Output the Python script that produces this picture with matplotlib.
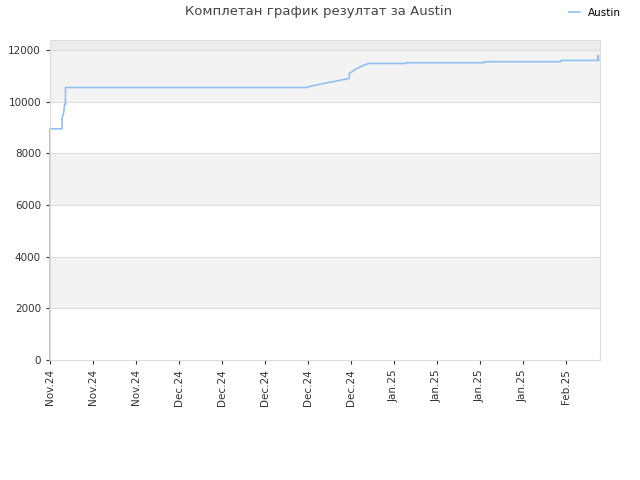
import matplotlib
matplotlib.use("Agg")
import matplotlib.pyplot as plt

x = [0, 0, 2.8, 2.8, 3.2, 3.4, 3.6, 3.6, 59.8, 60.5, 62, 64, 66, 68, 69.6, 69.6, 71, 72.5, 74, 82.8, 82.8, 101, 101, 118.8, 118.8, 127.4, 127.5, 127.6]
y = [0, 8950, 8950, 9350, 9600, 9900, 9900, 10550, 10550, 10600, 10650, 10720, 10780, 10850, 10900, 11100, 11250, 11380, 11480, 11480, 11510, 11510, 11550, 11550, 11600, 11600, 11800, 11600]
tick_pos = [0, 10, 20, 30, 40, 50, 60, 70, 80, 90, 100, 110, 120]
tick_labels = ["Nov.24", "Nov.24", "Nov.24", "Dec.24", "Dec.24", "Dec.24", "Dec.24", "Dec.24",
               "Jan.25", "Jan.25", "Jan.25", "Jan.25", "Feb.25"]

fig = plt.figure(figsize=(6.4, 4.8), dpi=100)
ax = fig.add_axes([50/640, 120/480, 550/640, 320/480])
ymax = 12390
ax.set_ylim(0, ymax)
ax.set_xlim(0, 127.9)
for lo, hi, c in [(2000, 4000, "#f3f3f3"), (6000, 8000, "#f3f3f3"), (10000, 12000, "#f3f3f3"), (12000, ymax, "#ececec")]:
    ax.axhspan(lo, hi, color=c, zorder=0, lw=0)
for v in range(2000, 12001, 2000):
    ax.axhline(v, color="#dddddd", lw=0.8, zorder=1)
ax.plot(x, y, color="#8fc1f0", lw=1.2, label="Austin", zorder=2, clip_on=False)
ax.set_yticks(range(0, 12001, 2000))
ax.set_xticks(tick_pos)
ax.set_xticklabels(tick_labels, rotation=90)
ax.tick_params(labelsize=7.5, colors="#333333", length=3)
for s in ax.spines.values():
    s.set_color("#dddddd")
fig.text(0.497, 0.975, "Комплетан график резултат за Austin", fontsize=9.5, color="#444444", ha="center", va="center")
fig.legend(loc="upper right", bbox_to_anchor=(0.985, 1.003), frameon=False, fontsize=7.5, handlelength=1)
fig.savefig("out.png", dpi=100)
